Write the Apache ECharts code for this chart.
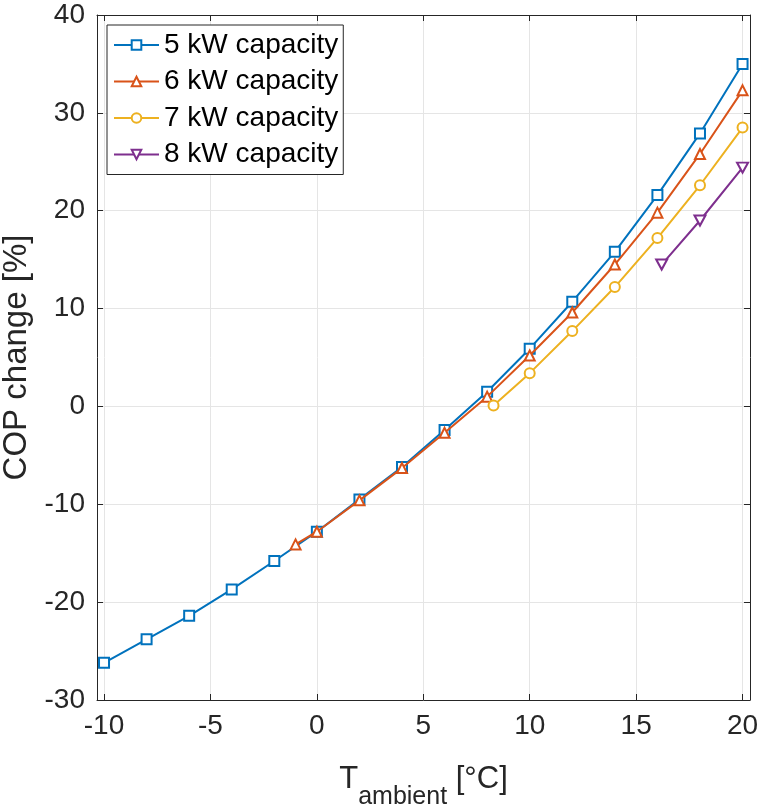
<!DOCTYPE html>
<html>
<head>
<meta charset="utf-8">
<script src="https://cdn.jsdelivr.net/npm/echarts@6/dist/echarts.min.js"></script>
<style>
  html, body { margin: 0; padding: 0; background: #fff; }
  #chart { width: 762px; height: 806px; }
</style>
</head>
<body>
<div id="chart"></div>
<script>
// ambient temperature [°C] and COP change [%] per heat pump size
const temp5 = [-10, -8, -6, -4, -2, 0, 2, 4, 6, 8, 10, 12, 14, 16, 18, 20];
const cop5 = [-26.2, -23.8, -21.4, -18.7, -15.8, -12.8, -9.5, -6.2, -2.4, 1.5, 5.9, 10.7, 15.8, 21.6, 27.9, 35.0];
const temp6 = [-1, 0, 2, 4, 6, 8, 10, 12, 14, 16, 18, 20];
const cop6 = [-14.1, -12.8, -9.6, -6.3, -2.7, 1.0, 5.2, 9.6, 14.5, 19.8, 25.8, 32.3];
const temp7 = [8.3, 10, 12, 14, 16, 18, 20];
const cop7 = [0.1, 3.4, 7.7, 12.2, 17.2, 22.6, 28.5];
const temp8 = [16.2, 18, 20];
const cop8 = [14.5, 19.0, 24.4];

const seriesNames = ['5 kW capacity', '6 kW capacity', '7 kW capacity', '8 kW capacity'];
const xTicks = [-10, -5, 0, 5, 10, 15, 20];

const colors = ['#0072BD', '#D95319', '#EDB120', '#7E2F8E'];
const markers = ['rect', 'triangle', 'circle', 'path://M0,0 L10,0 L5,9 Z'];
const sizes = [10, 10, 10, [11, 10]];
const FONT = 'Liberation Sans, Arial, sans-serif';

function pairs(xs, ys) {
  return xs.map((x, i) => [x, ys[i]]);
}

const chart = echarts.init(document.getElementById('chart'));

const boxX = {
  type: 'value', min: -10.33, max: 20.35,
  axisLine: { show: true, onZero: false, lineStyle: { color: '#262626', width: 1 } },
  axisTick: { show: true, inside: true, length: 6, customValues: xTicks, lineStyle: { color: '#262626' } },
  splitLine: { show: false },
  axisLabel: { show: false }
};

chart.setOption({
  animation: false,
  textStyle: { fontFamily: FONT },
  grid: { left: 97, right: 12, top: 15, bottom: 106, containLabel: false, outerBoundsMode: 'none' },
  legend: {
    left: 107, top: 25,
    orient: 'vertical',
    backgroundColor: '#fff',
    borderColor: '#262626', borderWidth: 1,
    padding: [6, 5, 6, 6],
    itemWidth: 45, itemHeight: 12, itemGap: 8.5,
    textStyle: { fontSize: 28, color: '#000', fontFamily: FONT },
    data: seriesNames
  },
  xAxis: [
    {
      type: 'value', min: -10.33, max: 20.35, position: 'bottom',
      name: '{t|T}{s|ambient}{t| [°C]}',
      nameLocation: 'middle', nameGap: 49,
      nameTextStyle: {
        rich: {
          t: { fontSize: 31, color: '#262626', fontFamily: FONT },
          s: { fontSize: 25, color: '#262626', fontFamily: FONT, padding: [36, 0, 0, 0] }
        }
      },
      axisLine: { show: true, onZero: false, lineStyle: { color: '#262626', width: 1 } },
      axisTick: { show: true, inside: true, length: 6, customValues: xTicks, lineStyle: { color: '#262626' } },
      axisLabel: { customValues: xTicks, fontSize: 28, color: '#262626', margin: 12, fontFamily: FONT },
      splitLine: { show: true, lineStyle: { color: '#e5e5e5', width: 1 } }
    },
    Object.assign({ position: 'top' }, boxX)
  ],
  yAxis: [
    {
      type: 'value', min: -30, max: 40, interval: 10, position: 'left',
      name: 'COP change [%]',
      nameLocation: 'middle', nameGap: 59,
      nameTextStyle: { fontSize: 33, color: '#262626', fontFamily: FONT },
      axisLine: { show: true, onZero: false, lineStyle: { color: '#262626', width: 1 } },
      axisTick: { show: true, inside: true, length: 6, lineStyle: { color: '#262626' } },
      axisLabel: { fontSize: 28, color: '#262626', margin: 12, fontFamily: FONT },
      splitLine: { show: true, lineStyle: { color: '#e5e5e5', width: 1 } }
    },
    {
      type: 'value', min: -30, max: 40, interval: 10, position: 'right',
      axisLine: { show: true, onZero: false, lineStyle: { color: '#262626', width: 1 } },
      axisTick: { show: true, inside: true, length: 6, lineStyle: { color: '#262626' } },
      axisLabel: { show: false },
      splitLine: { show: false }
    }
  ],
  series: [pairs(temp5, cop5), pairs(temp6, cop6), pairs(temp7, cop7), pairs(temp8, cop8)].map((d, i) => ({
    name: seriesNames[i],
    type: 'line',
    data: d,
    symbol: markers[i],
    symbolSize: sizes[i],
    showAllSymbol: true,
    lineStyle: { color: colors[i], width: 2 },
    itemStyle: { color: '#fff', borderColor: colors[i], borderWidth: 2 },
    emphasis: { disabled: true },
    z: 2 + i
  }))
});
</script>
</body>
</html>
